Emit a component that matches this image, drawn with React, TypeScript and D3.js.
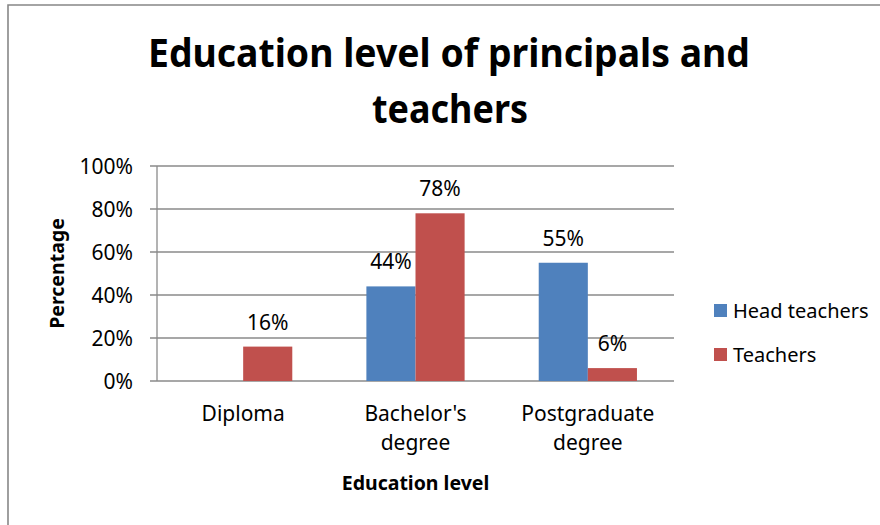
import React, { useEffect, useRef } from "react";
import * as d3 from "d3";

const categories = ["Diploma", "Bachelor's degree", "Postgraduate degree"];
const categoryLines = [["Diploma"], ["Bachelor's", "degree"], ["Postgraduate", "degree"]];
const seriesNames = ["Head teachers", "Teachers"];
const headTeachers: (number | null)[] = [null, 0.44, 0.55];
const teachers: (number | null)[] = [0.16, 0.78, 0.06];
const yTicks = [0, 0.2, 0.4, 0.6, 0.8, 1];
const colors = ["#4F81BD", "#C0504D"];

const FONT = "'Noto Sans', 'Open Sans', sans-serif";

export default function App() {
  const svgRef = useRef<SVGSVGElement>(null);

  useEffect(() => {
    const width = 880;
    const height = 525;
    const svg = d3.select(svgRef.current).attr("width", width).attr("height", height);
    svg.selectAll("*").remove();

    const xScale = d3
      .scaleBand()
      .domain(categories)
      .range([157, 674])
      .paddingInner(0.43)
      .paddingOuter(0.215);

    const xSub = d3.scaleBand().domain(seriesNames).range([0, xScale.bandwidth()]);

    const yScale = d3.scaleLinear().domain([0, 1]).range([381, 166]);

    // chart frame (left + top edges visible)
    svg
      .append("path")
      .attr("d", `M8,${height} L8,5 L${width},5`)
      .attr("fill", "none")
      .attr("stroke", "#878787")
      .attr("stroke-width", 1.6);

    // title
    const title = svg
      .append("g")
      .attr("font-family", FONT)
      .attr("font-weight", "bold")
      .attr("font-size", 39)
      .attr("fill", "#000")
      .attr("text-anchor", "middle");
    title
      .append("text")
      .attr("x", 449)
      .attr("y", 67)
      .attr("textLength", 602)
      .attr("lengthAdjust", "spacingAndGlyphs")
      .text("Education level of principals and");
    title
      .append("text")
      .attr("x", 450)
      .attr("y", 123)
      .attr("textLength", 156)
      .attr("lengthAdjust", "spacingAndGlyphs")
      .text("teachers");

    // gridlines
    svg
      .append("g")
      .selectAll("line")
      .data(yTicks)
      .enter()
      .append("line")
      .attr("x1", 150)
      .attr("x2", 674)
      .attr("y1", (d) => yScale(d))
      .attr("y2", (d) => yScale(d))
      .attr("stroke", "#8a8a8a")
      .attr("stroke-width", 1.3);

    // y axis line
    svg
      .append("line")
      .attr("x1", 157)
      .attr("x2", 157)
      .attr("y1", yScale(1))
      .attr("y2", yScale(0))
      .attr("stroke", "#8a8a8a")
      .attr("stroke-width", 1.3);

    svg
      .append("g")
      .selectAll("text")
      .data(yTicks)
      .enter()
      .append("text")
      .attr("x", 133)
      .attr("y", (d) => yScale(d))
      .attr("dy", "0.36em")
      .attr("text-anchor", "end")
      .attr("font-family", FONT)
      .attr("font-size", 21)
      .attr("fill", "#000")
      .text((d) => d3.format(".0%")(d));

    // bars
    const seriesData = [headTeachers, teachers];
    seriesData.forEach((values, si) => {
      const g = svg.append("g");
      const pts = values
        .map((v, i) => ({ cat: categories[i], v }))
        .filter((d) => d.v !== null) as { cat: string; v: number }[];

      g.selectAll("rect")
        .data(pts)
        .enter()
        .append("rect")
        .attr("x", (d) => (xScale(d.cat) as number) + (xSub(seriesNames[si]) as number))
        .attr("y", (d) => yScale(d.v))
        .attr("width", xSub.bandwidth())
        .attr("height", (d) => yScale(0) - yScale(d.v))
        .attr("fill", colors[si]);

      g.selectAll("text")
        .data(pts)
        .enter()
        .append("text")
        .attr("x", (d) => (xScale(d.cat) as number) + (xSub(seriesNames[si]) as number) + xSub.bandwidth() / 2)
        .attr("y", (d) => yScale(d.v) - 17)
        .attr("text-anchor", "middle")
        .attr("font-family", FONT)
        .attr("font-size", 21)
        .attr("fill", "#000")
        .text((d) => d3.format(".0%")(d.v));
    });

    // category labels
    const xl = svg.append("g");
    categories.forEach((c, i) => {
      const t = xl
        .append("text")
        .attr("x", (xScale(c) as number) + xScale.bandwidth() / 2)
        .attr("y", 421)
        .attr("text-anchor", "middle")
        .attr("font-family", FONT)
        .attr("font-size", 21)
        .attr("fill", "#000");
      categoryLines[i].forEach((line, li) => {
        t.append("tspan")
          .attr("x", (xScale(c) as number) + xScale.bandwidth() / 2)
          .attr("dy", li === 0 ? 0 : 29)
          .text(line);
      });
    });

    // axis titles
    svg
      .append("text")
      .attr("x", 415.5)
      .attr("y", 490)
      .attr("text-anchor", "middle")
      .attr("font-family", FONT)
      .attr("font-weight", "bold")
      .attr("font-size", 19.5)
      .attr("fill", "#000")
      .text("Education level");

    svg
      .append("text")
      .attr("transform", `translate(64, ${(yScale(0) + yScale(1)) / 2}) rotate(-90)`)
      .attr("text-anchor", "middle")
      .attr("font-family", FONT)
      .attr("font-weight", "bold")
      .attr("font-size", 19.5)
      .attr("fill", "#000")
      .text("Percentage");

    // legend
    const legend = svg.append("g").attr("transform", "translate(714, 304)");
    seriesNames.forEach((name, i) => {
      legend
        .append("rect")
        .attr("x", 0)
        .attr("y", i * 44)
        .attr("width", 13)
        .attr("height", 13)
        .attr("fill", colors[i]);
      legend
        .append("text")
        .attr("x", 19)
        .attr("y", i * 44 + 7)
        .attr("dy", "0.36em")
        .attr("font-family", FONT)
        .attr("font-size", 20)
        .attr("fill", "#000")
        .text(name);
    });
  }, []);

  return (
    <div style={{ position: "absolute", left: 0, top: 0 }}>
      <svg ref={svgRef} style={{ display: "block", background: "#fff" }}></svg>
    </div>
  );
}
